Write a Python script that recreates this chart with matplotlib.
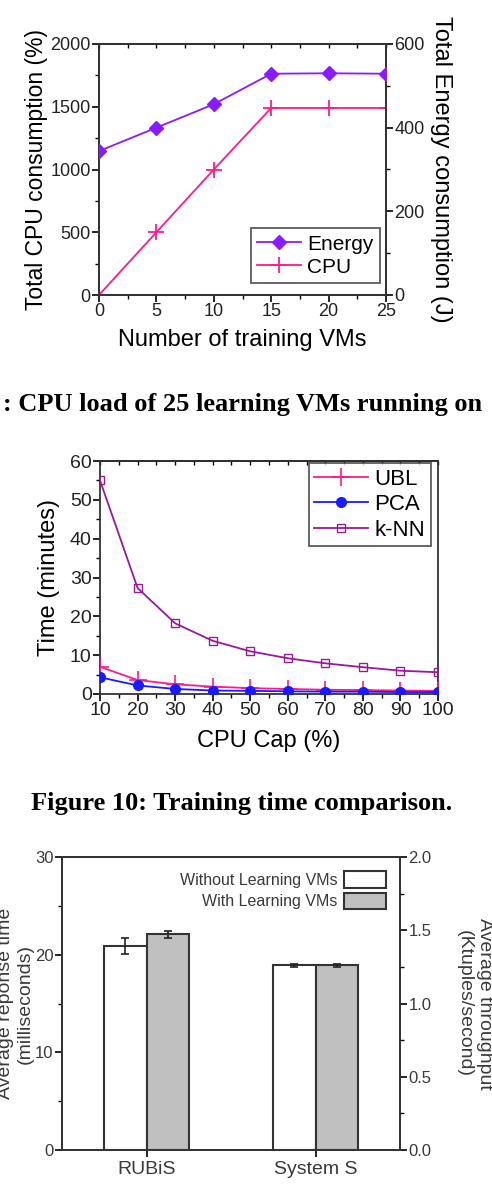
import numpy as np
import matplotlib
matplotlib.use('Agg')
import matplotlib.pyplot as plt
from matplotlib.ticker import MultipleLocator, FormatStrFormatter

plt.rcParams['font.family'] = ['Liberation Sans', 'DejaVu Sans']

# chart 1: cpu / energy vs number of training VMs
vms = [0, 5, 10, 15, 20, 25]
energy = [344, 400, 456, 529, 530, 529]
cpu = [0, 500, 1000, 1490, 1490, 1490]

# chart 2: training time vs cpu cap
cap = [10, 20, 30, 40, 50, 60, 70, 80, 90, 100]
ubl = [7.0, 3.6, 2.5, 1.9, 1.5, 1.3, 1.1, 1.0, 0.9, 0.8]
pca = [4.3, 2.2, 1.3, 0.9, 0.8, 0.7, 0.6, 0.6, 0.5, 0.5]
knn = [55.0, 27.3, 18.2, 13.7, 11.0, 9.2, 7.9, 6.9, 6.0, 5.6]

# chart 3: overhead of learning VMs
apps = ['RUBiS', 'System S']
rubis_ms = [20.9, 22.1]        # without, with
rubis_err = [0.8, 0.35]
systems_kt = [1.26, 1.26]      # without, with (right axis)
systems_err = [0.012, 0.012]

W, H = 492, 1200
fig = plt.figure(figsize=(W / 100, H / 100), dpi=100)


def box(l, r, t, b):
    return [l / W, 1 - b / H, (r - l) / W, (b - t) / H]


def tickstyle(ax, size=13, color='#222222'):
    ax.tick_params(which='major', direction='out', length=5, width=1.2,
                   labelsize=size, labelcolor=color, pad=1)
    ax.tick_params(which='minor', direction='out', length=3, width=1.0)
    for s in ax.spines.values():
        s.set_linewidth(1.3)
        s.set_color('#333333')


def top_ticks(ax, major, minor):
    top = ax.secondary_xaxis('top')
    top.xaxis.set_major_locator(MultipleLocator(major))
    top.xaxis.set_minor_locator(MultipleLocator(minor))
    top.tick_params(which='both', direction='in', labeltop=False,
                    length=3, width=1.0)
    top.spines['top'].set_linewidth(1.3)


# ---------- chart 1 ----------
ax1 = fig.add_axes(box(99, 386, 44, 295))
ax1r = ax1.twinx()
ax1.plot(vms, cpu, color='#ff1a8c', marker='+', ms=12, mew=1.3, lw=1.3,
         label='CPU', zorder=3)
ax1r.plot(vms, energy, color='#8a1aff', marker='D', ms=7, lw=1.3,
          label='Energy', zorder=3)
ax1.set_xlim(0, 25)
ax1.set_ylim(0, 2000)
ax1r.set_ylim(0, 600)
ax1.xaxis.set_major_locator(MultipleLocator(5))
ax1.xaxis.set_minor_locator(MultipleLocator(2.5))
ax1.yaxis.set_major_locator(MultipleLocator(500))
ax1.yaxis.set_minor_locator(MultipleLocator(250))
ax1r.yaxis.set_major_locator(MultipleLocator(200))
ax1r.yaxis.set_minor_locator(MultipleLocator(100))
tickstyle(ax1, 13)
tickstyle(ax1r, 13)
top_ticks(ax1, 5, 2.5)
ax1.set_xlabel('Number of training VMs', fontsize=17, labelpad=6)
ax1.set_ylabel('Total CPU consumption (%)', fontsize=16.5)
ax1.yaxis.set_label_coords(-0.178, 0.5)
ax1r.set_ylabel('Total Energy consumption (J)', fontsize=17, rotation=-90,
                va='bottom')
ax1r.yaxis.set_label_coords(1.155, 0.5)
h1, l1 = ax1r.get_legend_handles_labels()
h2, l2 = ax1.get_legend_handles_labels()
leg = ax1r.legend(h1 + h2, l1 + l2, loc='lower right', fontsize=15,
                  frameon=True, fancybox=False, edgecolor='#333333',
                  handlelength=2.1, borderpad=0.3, labelspacing=0.2,
                  handletextpad=0.3, borderaxespad=0.0,
                  bbox_to_anchor=(0.979, 0.048))
leg.get_frame().set_linewidth(1.3)

fig.text(482 / W, 1 - 411 / H, ': CPU load of 25 learning VMs running on',
         ha='right', va='baseline', fontsize=19, fontweight='bold',
         family='Liberation Serif')

# ---------- chart 2 ----------
ax2 = fig.add_axes(box(100, 438, 461, 694))
ax2.plot(cap, ubl, color='#ff1a8c', marker='+', ms=13, mew=1.2, lw=1.3,
         label='UBL', zorder=3)
ax2.plot(cap, pca, color='#1a1aff', marker='o', ms=7, lw=1.3,
         label='PCA', zorder=3)
ax2.plot(cap, knn, color='#991a99', marker='s', ms=6, mfc='none', mew=1.0,
         lw=1.3, label='k-NN', zorder=3)
ax2.set_xlim(10, 100)
ax2.set_ylim(0, 60)
ax2.xaxis.set_major_locator(MultipleLocator(10))
ax2.xaxis.set_minor_locator(MultipleLocator(5))
ax2.yaxis.set_major_locator(MultipleLocator(10))
ax2.yaxis.set_minor_locator(MultipleLocator(5))
tickstyle(ax2, 14)
top_ticks(ax2, 10, 5)
ax2.set_xlabel('CPU Cap (%)', fontsize=17, labelpad=8)
ax2.set_ylabel('Time (minutes)', fontsize=17)
ax2.yaxis.set_label_coords(-0.118, 0.5)
leg2 = ax2.legend(loc='upper right', fontsize=16, frameon=True,
                  fancybox=False, edgecolor='#333333', handlelength=2.4,
                  borderpad=0.25, labelspacing=0.2, handletextpad=0.3,
                  borderaxespad=0.1, bbox_to_anchor=(0.985, 1.0))
leg2.get_frame().set_linewidth(1.3)

fig.text(242 / W, 1 - 810 / H, 'Figure 10: Training time comparison.',
         ha='center', va='baseline', fontsize=19, fontweight='bold',
         family='Liberation Serif')

# ---------- chart 3 ----------
ax3 = fig.add_axes(box(62, 400, 857, 1150))
ax3r = ax3.twinx()
bw = 0.25
x = np.arange(len(apps))
bar_kw = dict(edgecolor='#333333', linewidth=1.5, zorder=2)
err_kw = dict(ecolor='#222222', elinewidth=1.2, capsize=3, capthick=1.2)
b_wo = ax3.bar(x[0] - bw / 2, rubis_ms[0], bw, yerr=rubis_err[0],
               color='white', error_kw=err_kw, **bar_kw)
b_w = ax3.bar(x[0] + bw / 2, rubis_ms[1], bw, yerr=rubis_err[1],
              color='#c0c0c0', error_kw=err_kw, **bar_kw)
ax3r.bar(x[1] - bw / 2, systems_kt[0], bw, yerr=systems_err[0],
         color='white', error_kw=err_kw, **bar_kw)
ax3r.bar(x[1] + bw / 2, systems_kt[1], bw, yerr=systems_err[1],
         color='#c0c0c0', error_kw=err_kw, **bar_kw)
ax3.set_xlim(-0.5, 1.5)
ax3.set_ylim(0, 30)
ax3r.set_ylim(0, 2.0)
ax3.set_xticks(x)
ax3.set_xticklabels(apps)
ax3.yaxis.set_major_locator(MultipleLocator(10))
ax3.yaxis.set_minor_locator(MultipleLocator(5))
ax3r.yaxis.set_major_locator(MultipleLocator(0.5))
ax3r.yaxis.set_minor_locator(MultipleLocator(0.25))
ax3r.yaxis.set_major_formatter(FormatStrFormatter('%.1f'))
tickstyle(ax3, 12, '#3a3a3a')
tickstyle(ax3r, 12, '#3a3a3a')
ax3.tick_params(axis='x', labelsize=14, pad=3)
ax3.set_ylabel('Average reponse time\n(milliseconds)', fontsize=14,
               color='#3a3a3a', linespacing=1.25)
ax3.yaxis.set_label_coords(-0.083, 0.5)
ax3r.set_ylabel('Average throughput\n(Ktuples/second)', fontsize=14,
                color='#3a3a3a', rotation=-90, va='bottom', linespacing=1.25)
ax3r.yaxis.set_label_coords(1.166, 0.5)
ax3r.legend([b_wo, b_w], ['Without Learning VMs', 'With Learning VMs'],
            loc='upper right', frameon=False, markerfirst=False,
            fontsize=11.5, labelcolor='#3a3a3a', handlelength=2.6,
            handleheight=1.2, labelspacing=0.3, handletextpad=0.4,
            borderaxespad=0.5)

fig.savefig('out.png', dpi=100)
